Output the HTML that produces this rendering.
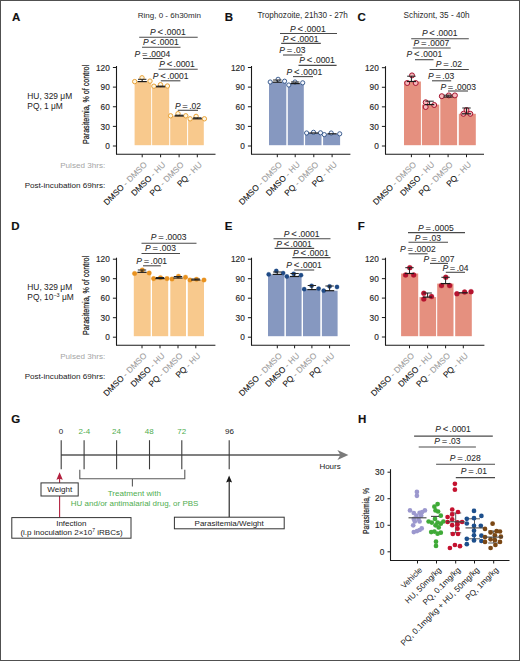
<!DOCTYPE html>
<html><head><meta charset="utf-8"><style>
html,body{margin:0;padding:0;background:#fff;}
body{width:520px;height:661px;overflow:hidden;}
svg{display:block;font-family:"Liberation Sans", sans-serif;}
</style></head><body>
<svg width="520" height="661" viewBox="0 0 520 661">
<rect x="0" y="0" width="520" height="661" fill="#fff"/>
<rect x="134.6" y="81.6" width="16.60" height="63.60" fill="#F8C98D"/>
<rect x="152.1" y="86.8" width="17.10" height="58.40" fill="#F8C98D"/>
<rect x="170.2" y="116" width="16.90" height="29.20" fill="#F8C98D"/>
<rect x="188.1" y="118.8" width="15.70" height="26.40" fill="#F8C98D"/>
<circle cx="134.7" cy="81.6" r="2.2" fill="#fff6e0" stroke="#E8A137" stroke-width="1.0"/>
<circle cx="142" cy="77.8" r="2.2" fill="#fff6e0" stroke="#E8A137" stroke-width="1.0"/>
<circle cx="150" cy="81.1" r="2.2" fill="#fff6e0" stroke="#E8A137" stroke-width="1.0"/>
<circle cx="153.9" cy="86.2" r="2.2" fill="#fff6e0" stroke="#E8A137" stroke-width="1.0"/>
<circle cx="160.5" cy="84.7" r="2.2" fill="#fff6e0" stroke="#E8A137" stroke-width="1.0"/>
<circle cx="167.4" cy="86" r="2.2" fill="#fff6e0" stroke="#E8A137" stroke-width="1.0"/>
<circle cx="170.6" cy="115.8" r="2.2" fill="#fff6e0" stroke="#E8A137" stroke-width="1.0"/>
<circle cx="178" cy="113.7" r="2.2" fill="#fff6e0" stroke="#E8A137" stroke-width="1.0"/>
<circle cx="185.8" cy="115.8" r="2.2" fill="#fff6e0" stroke="#E8A137" stroke-width="1.0"/>
<circle cx="190.1" cy="118.8" r="2.2" fill="#fff6e0" stroke="#E8A137" stroke-width="1.0"/>
<circle cx="196.1" cy="116.4" r="2.2" fill="#fff6e0" stroke="#E8A137" stroke-width="1.0"/>
<circle cx="204.4" cy="118.8" r="2.2" fill="#fff6e0" stroke="#E8A137" stroke-width="1.0"/>
<line x1="142.2" x2="142.2" y1="79.3" y2="81.6" stroke="#222" stroke-width="1"/>
<line x1="138.0" x2="146.39999999999998" y1="79.3" y2="79.3" stroke="#222" stroke-width="1"/>
<line x1="160.6" x2="160.6" y1="86.1" y2="86.8" stroke="#222" stroke-width="1"/>
<line x1="156.4" x2="164.79999999999998" y1="86.1" y2="86.1" stroke="#222" stroke-width="1"/>
<line x1="179.1" x2="179.1" y1="115.2" y2="116" stroke="#222" stroke-width="1"/>
<line x1="174.9" x2="183.29999999999998" y1="115.2" y2="115.2" stroke="#222" stroke-width="1"/>
<line x1="197.3" x2="197.3" y1="117.8" y2="118.8" stroke="#222" stroke-width="1"/>
<line x1="193.10000000000002" x2="201.5" y1="117.8" y2="117.8" stroke="#222" stroke-width="1"/>
<line x1="137.6" x2="146.79999999999998" y1="81.6" y2="81.6" stroke="#1a1a1a" stroke-width="1.2"/>
<line x1="156.0" x2="165.2" y1="86.8" y2="86.8" stroke="#1a1a1a" stroke-width="1.2"/>
<line x1="174.5" x2="183.7" y1="116" y2="116" stroke="#1a1a1a" stroke-width="1.2"/>
<line x1="192.70000000000002" x2="201.9" y1="118.8" y2="118.8" stroke="#1a1a1a" stroke-width="1.2"/>
<line x1="116.5" x2="116.5" y1="66.0" y2="154.3" stroke="#1a1a1a" stroke-width="1.1"/>
<line x1="116.0" x2="215.5" y1="154.3" y2="154.3" stroke="#1a1a1a" stroke-width="1.1"/>
<line x1="112.9" x2="116.5" y1="146.00" y2="146.00" stroke="#1a1a1a" stroke-width="1"/>
<text x="109.8" y="149.20" font-size="8.3" fill="#2a2a2a" stroke="#2a2a2a" stroke-width="0.15" text-anchor="end">0</text>
<line x1="112.9" x2="116.5" y1="126.38" y2="126.38" stroke="#1a1a1a" stroke-width="1"/>
<text x="109.8" y="129.57" font-size="8.3" fill="#2a2a2a" stroke="#2a2a2a" stroke-width="0.15" text-anchor="end">30</text>
<line x1="112.9" x2="116.5" y1="106.75" y2="106.75" stroke="#1a1a1a" stroke-width="1"/>
<text x="109.8" y="109.95" font-size="8.3" fill="#2a2a2a" stroke="#2a2a2a" stroke-width="0.15" text-anchor="end">60</text>
<line x1="112.9" x2="116.5" y1="87.12" y2="87.12" stroke="#1a1a1a" stroke-width="1"/>
<text x="109.8" y="90.33" font-size="8.3" fill="#2a2a2a" stroke="#2a2a2a" stroke-width="0.15" text-anchor="end">90</text>
<line x1="112.9" x2="116.5" y1="67.50" y2="67.50" stroke="#1a1a1a" stroke-width="1"/>
<text x="109.8" y="70.70" font-size="8.3" fill="#2a2a2a" stroke="#2a2a2a" stroke-width="0.15" text-anchor="end">120</text>
<line x1="142.2" x2="142.2" y1="154.3" y2="157.3" stroke="#1a1a1a" stroke-width="1"/>
<line x1="160.6" x2="160.6" y1="154.3" y2="157.3" stroke="#1a1a1a" stroke-width="1"/>
<line x1="179.1" x2="179.1" y1="154.3" y2="157.3" stroke="#1a1a1a" stroke-width="1"/>
<line x1="197.3" x2="197.3" y1="154.3" y2="157.3" stroke="#1a1a1a" stroke-width="1"/>
<text transform="translate(147.50,165.20) rotate(-45)" font-size="8.3" text-anchor="end" fill="#111" stroke="#111" stroke-width="0.1">DMSO<tspan fill="#9d9d9d" stroke="#9d9d9d" stroke-width="0.1"> - DMSO</tspan></text>
<text transform="translate(165.90,165.20) rotate(-45)" font-size="8.3" text-anchor="end" fill="#111" stroke="#111" stroke-width="0.1">DMSO<tspan fill="#9d9d9d" stroke="#9d9d9d" stroke-width="0.1"> - HU</tspan></text>
<text transform="translate(184.40,165.20) rotate(-45)" font-size="8.3" text-anchor="end" fill="#111" stroke="#111" stroke-width="0.1">PQ<tspan fill="#9d9d9d" stroke="#9d9d9d" stroke-width="0.1"> - DMSO</tspan></text>
<text transform="translate(202.60,165.20) rotate(-45)" font-size="8.3" text-anchor="end" fill="#111" stroke="#111" stroke-width="0.1">PQ<tspan fill="#9d9d9d" stroke="#9d9d9d" stroke-width="0.1"> - HU</tspan></text>
<text x="150" y="34.9" font-size="8.5" fill="#2a2a2a" stroke="#2a2a2a" stroke-width="0.08"><tspan font-style="italic">P</tspan><tspan dx="1.8" font-size="9.4">&lt;</tspan><tspan dx="1.4">.0001</tspan></text>
<line x1="139.2" x2="197.7" y1="37.2" y2="37.2" stroke="#4a4a4a" stroke-width="1.1"/>
<text x="143" y="44.9" font-size="8.5" fill="#2a2a2a" stroke="#2a2a2a" stroke-width="0.08"><tspan font-style="italic">P</tspan><tspan dx="1.8" font-size="9.4">&lt;</tspan><tspan dx="1.4">.0001</tspan></text>
<line x1="142" x2="180.5" y1="47.2" y2="47.2" stroke="#4a4a4a" stroke-width="1.1"/>
<text x="134.6" y="56.5" font-size="8.5" fill="#2a2a2a" stroke="#2a2a2a" stroke-width="0.08"><tspan font-style="italic">P</tspan><tspan dx="1.8" font-size="9.4">=</tspan><tspan dx="1.4">.0004</tspan></text>
<line x1="143" x2="162.6" y1="58.5" y2="58.5" stroke="#4a4a4a" stroke-width="1.1"/>
<text x="159.2" y="67.3" font-size="8.5" fill="#2a2a2a" stroke="#2a2a2a" stroke-width="0.08"><tspan font-style="italic">P</tspan><tspan dx="1.8" font-size="9.4">&lt;</tspan><tspan dx="1.4">.0001</tspan></text>
<line x1="158.5" x2="197.7" y1="69.2" y2="69.2" stroke="#4a4a4a" stroke-width="1.1"/>
<text x="152.8" y="78.6" font-size="8.5" fill="#2a2a2a" stroke="#2a2a2a" stroke-width="0.08"><tspan font-style="italic">P</tspan><tspan dx="1.8" font-size="9.4">&lt;</tspan><tspan dx="1.4">.0001</tspan></text>
<line x1="160.8" x2="180.4" y1="80.8" y2="80.8" stroke="#4a4a4a" stroke-width="1.1"/>
<text x="174.9" y="108.6" font-size="8.5" fill="#2a2a2a" stroke="#2a2a2a" stroke-width="0.08"><tspan font-style="italic">P</tspan><tspan dx="1.8" font-size="9.4">=</tspan><tspan dx="1.4">.02</tspan></text>
<line x1="177.8" x2="198" y1="110.3" y2="110.3" stroke="#4a4a4a" stroke-width="1.1"/>
<rect x="269" y="82.2" width="17.30" height="63.00" fill="#8698C0"/>
<rect x="287.8" y="83.6" width="16.00" height="61.60" fill="#8698C0"/>
<rect x="305.1" y="133" width="16.40" height="12.20" fill="#8698C0"/>
<rect x="323.1" y="133.8" width="17.00" height="11.40" fill="#8698C0"/>
<circle cx="270.2" cy="82" r="2.1" fill="#f4f7ff" stroke="#2B4F85" stroke-width="0.9"/>
<circle cx="278.1" cy="79.3" r="2.1" fill="#f4f7ff" stroke="#2B4F85" stroke-width="0.9"/>
<circle cx="284.6" cy="81.2" r="2.1" fill="#f4f7ff" stroke="#2B4F85" stroke-width="0.9"/>
<circle cx="288.8" cy="85" r="2.1" fill="#f4f7ff" stroke="#2B4F85" stroke-width="0.9"/>
<circle cx="295" cy="82" r="2.1" fill="#f4f7ff" stroke="#2B4F85" stroke-width="0.9"/>
<circle cx="302.7" cy="82.8" r="2.1" fill="#f4f7ff" stroke="#2B4F85" stroke-width="0.9"/>
<circle cx="306.6" cy="133" r="2.1" fill="#f4f7ff" stroke="#2B4F85" stroke-width="0.9"/>
<circle cx="313.5" cy="132.3" r="2.1" fill="#f4f7ff" stroke="#2B4F85" stroke-width="0.9"/>
<circle cx="320.5" cy="132.8" r="2.1" fill="#f4f7ff" stroke="#2B4F85" stroke-width="0.9"/>
<circle cx="324.3" cy="134.6" r="2.1" fill="#f4f7ff" stroke="#2B4F85" stroke-width="0.9"/>
<circle cx="331.2" cy="133" r="2.1" fill="#f4f7ff" stroke="#2B4F85" stroke-width="0.9"/>
<circle cx="339.7" cy="133.8" r="2.1" fill="#f4f7ff" stroke="#2B4F85" stroke-width="0.9"/>
<line x1="277.3" x2="277.3" y1="80" y2="82.2" stroke="#222" stroke-width="1"/>
<line x1="273.1" x2="281.5" y1="80" y2="80" stroke="#222" stroke-width="1"/>
<line x1="295.2" x2="295.2" y1="82" y2="83.6" stroke="#222" stroke-width="1"/>
<line x1="291.0" x2="299.4" y1="82" y2="82" stroke="#222" stroke-width="1"/>
<line x1="272.7" x2="281.90000000000003" y1="82.2" y2="82.2" stroke="#1a1a1a" stroke-width="1.2"/>
<line x1="290.59999999999997" x2="299.8" y1="83.6" y2="83.6" stroke="#1a1a1a" stroke-width="1.2"/>
<line x1="309.2" x2="318.40000000000003" y1="133" y2="133" stroke="#1a1a1a" stroke-width="1.2"/>
<line x1="327.5" x2="336.70000000000005" y1="133.8" y2="133.8" stroke="#1a1a1a" stroke-width="1.2"/>
<line x1="251.5" x2="251.5" y1="66.0" y2="154.2" stroke="#1a1a1a" stroke-width="1.1"/>
<line x1="251.0" x2="350.4" y1="154.2" y2="154.2" stroke="#1a1a1a" stroke-width="1.1"/>
<line x1="247.9" x2="251.5" y1="146.00" y2="146.00" stroke="#1a1a1a" stroke-width="1"/>
<text x="244.8" y="149.20" font-size="8.3" fill="#2a2a2a" stroke="#2a2a2a" stroke-width="0.15" text-anchor="end">0</text>
<line x1="247.9" x2="251.5" y1="126.38" y2="126.38" stroke="#1a1a1a" stroke-width="1"/>
<text x="244.8" y="129.57" font-size="8.3" fill="#2a2a2a" stroke="#2a2a2a" stroke-width="0.15" text-anchor="end">30</text>
<line x1="247.9" x2="251.5" y1="106.75" y2="106.75" stroke="#1a1a1a" stroke-width="1"/>
<text x="244.8" y="109.95" font-size="8.3" fill="#2a2a2a" stroke="#2a2a2a" stroke-width="0.15" text-anchor="end">60</text>
<line x1="247.9" x2="251.5" y1="87.12" y2="87.12" stroke="#1a1a1a" stroke-width="1"/>
<text x="244.8" y="90.33" font-size="8.3" fill="#2a2a2a" stroke="#2a2a2a" stroke-width="0.15" text-anchor="end">90</text>
<line x1="247.9" x2="251.5" y1="67.50" y2="67.50" stroke="#1a1a1a" stroke-width="1"/>
<text x="244.8" y="70.70" font-size="8.3" fill="#2a2a2a" stroke="#2a2a2a" stroke-width="0.15" text-anchor="end">120</text>
<line x1="277.3" x2="277.3" y1="154.2" y2="157.2" stroke="#1a1a1a" stroke-width="1"/>
<line x1="295.2" x2="295.2" y1="154.2" y2="157.2" stroke="#1a1a1a" stroke-width="1"/>
<line x1="313.8" x2="313.8" y1="154.2" y2="157.2" stroke="#1a1a1a" stroke-width="1"/>
<line x1="332.1" x2="332.1" y1="154.2" y2="157.2" stroke="#1a1a1a" stroke-width="1"/>
<text transform="translate(282.60,165.10) rotate(-45)" font-size="8.3" text-anchor="end" fill="#111" stroke="#111" stroke-width="0.1">DMSO<tspan fill="#9d9d9d" stroke="#9d9d9d" stroke-width="0.1"> - DMSO</tspan></text>
<text transform="translate(300.50,165.10) rotate(-45)" font-size="8.3" text-anchor="end" fill="#111" stroke="#111" stroke-width="0.1">DMSO<tspan fill="#9d9d9d" stroke="#9d9d9d" stroke-width="0.1"> - HU</tspan></text>
<text transform="translate(319.10,165.10) rotate(-45)" font-size="8.3" text-anchor="end" fill="#111" stroke="#111" stroke-width="0.1">PQ<tspan fill="#9d9d9d" stroke="#9d9d9d" stroke-width="0.1"> - DMSO</tspan></text>
<text transform="translate(337.40,165.10) rotate(-45)" font-size="8.3" text-anchor="end" fill="#111" stroke="#111" stroke-width="0.1">PQ<tspan fill="#9d9d9d" stroke="#9d9d9d" stroke-width="0.1"> - HU</tspan></text>
<text x="290" y="31.8" font-size="8.5" fill="#2a2a2a" stroke="#2a2a2a" stroke-width="0.08"><tspan font-style="italic">P</tspan><tspan dx="1.8" font-size="9.4">&lt;</tspan><tspan dx="1.4">.0001</tspan></text>
<line x1="280" x2="337" y1="33.5" y2="33.5" stroke="#4a4a4a" stroke-width="1.1"/>
<text x="282.8" y="41.5" font-size="8.5" fill="#2a2a2a" stroke="#2a2a2a" stroke-width="0.08"><tspan font-style="italic">P</tspan><tspan dx="1.8" font-size="9.4">&lt;</tspan><tspan dx="1.4">.0001</tspan></text>
<line x1="281.2" x2="320.8" y1="43.4" y2="43.4" stroke="#4a4a4a" stroke-width="1.1"/>
<text x="279.2" y="53.3" font-size="8.5" fill="#2a2a2a" stroke="#2a2a2a" stroke-width="0.08"><tspan font-style="italic">P</tspan><tspan dx="1.8" font-size="9.4">=</tspan><tspan dx="1.4">.03</tspan></text>
<line x1="283" x2="302.3" y1="55" y2="55" stroke="#4a4a4a" stroke-width="1.1"/>
<text x="299.2" y="63.3" font-size="8.5" fill="#2a2a2a" stroke="#2a2a2a" stroke-width="0.08"><tspan font-style="italic">P</tspan><tspan dx="1.8" font-size="9.4">&lt;</tspan><tspan dx="1.4">.0001</tspan></text>
<line x1="298.5" x2="336.6" y1="65.4" y2="65.4" stroke="#4a4a4a" stroke-width="1.1"/>
<text x="286.5" y="74.9" font-size="8.5" fill="#2a2a2a" stroke="#2a2a2a" stroke-width="0.08"><tspan font-style="italic">P</tspan><tspan dx="1.8" font-size="9.4">&lt;</tspan><tspan dx="1.4">.0001</tspan></text>
<line x1="293" x2="313" y1="76.6" y2="76.6" stroke="#4a4a4a" stroke-width="1.1"/>
<rect x="404" y="81.5" width="16.90" height="63.70" fill="#E5907F"/>
<rect x="421.9" y="104.6" width="17.30" height="40.60" fill="#E5907F"/>
<rect x="440.3" y="97" width="16.80" height="48.20" fill="#E5907F"/>
<rect x="458.8" y="113.8" width="17.00" height="31.40" fill="#E5907F"/>
<circle cx="407.2" cy="83" r="2.5" fill="#F7B9BC" stroke="#A5132E" stroke-width="1.0"/>
<circle cx="415.7" cy="83" r="2.5" fill="#F7B9BC" stroke="#A5132E" stroke-width="1.0"/>
<circle cx="412" cy="75.4" r="2.5" fill="#F7B9BC" stroke="#A5132E" stroke-width="1.0"/>
<circle cx="425.7" cy="102.3" r="2.5" fill="#F7B9BC" stroke="#A5132E" stroke-width="1.0"/>
<circle cx="425.7" cy="107" r="2.5" fill="#F7B9BC" stroke="#A5132E" stroke-width="1.0"/>
<circle cx="434.2" cy="105" r="2.5" fill="#F7B9BC" stroke="#A5132E" stroke-width="1.0"/>
<circle cx="441.8" cy="96.2" r="2.5" fill="#F7B9BC" stroke="#A5132E" stroke-width="1.0"/>
<circle cx="448.8" cy="95.4" r="2.5" fill="#F7B9BC" stroke="#A5132E" stroke-width="1.0"/>
<circle cx="454.9" cy="95.4" r="2.5" fill="#F7B9BC" stroke="#A5132E" stroke-width="1.0"/>
<circle cx="463.4" cy="113.8" r="2.5" fill="#F7B9BC" stroke="#A5132E" stroke-width="1.0"/>
<circle cx="470.3" cy="113.8" r="2.5" fill="#F7B9BC" stroke="#A5132E" stroke-width="1.0"/>
<circle cx="466.5" cy="110" r="2.5" fill="#F7B9BC" stroke="#A5132E" stroke-width="1.0"/>
<line x1="411.4" x2="411.4" y1="76.2" y2="81.5" stroke="#222" stroke-width="1"/>
<line x1="407.2" x2="415.59999999999997" y1="76.2" y2="76.2" stroke="#222" stroke-width="1"/>
<line x1="429.6" x2="429.6" y1="101.2" y2="104.6" stroke="#222" stroke-width="1"/>
<line x1="425.40000000000003" x2="433.8" y1="101.2" y2="101.2" stroke="#222" stroke-width="1"/>
<line x1="448.1" x2="448.1" y1="95.2" y2="97" stroke="#222" stroke-width="1"/>
<line x1="443.90000000000003" x2="452.3" y1="95.2" y2="95.2" stroke="#222" stroke-width="1"/>
<line x1="466.5" x2="466.5" y1="108" y2="113.8" stroke="#222" stroke-width="1"/>
<line x1="462.3" x2="470.7" y1="108" y2="108" stroke="#222" stroke-width="1"/>
<line x1="406.79999999999995" x2="416.0" y1="81.5" y2="81.5" stroke="#1a1a1a" stroke-width="1.2"/>
<line x1="425.0" x2="434.20000000000005" y1="104.6" y2="104.6" stroke="#1a1a1a" stroke-width="1.2"/>
<line x1="443.5" x2="452.70000000000005" y1="97" y2="97" stroke="#1a1a1a" stroke-width="1.2"/>
<line x1="461.9" x2="471.1" y1="113.8" y2="113.8" stroke="#1a1a1a" stroke-width="1.2"/>
<line x1="385.5" x2="385.5" y1="66.2" y2="154.2" stroke="#1a1a1a" stroke-width="1.1"/>
<line x1="385.0" x2="484" y1="154.2" y2="154.2" stroke="#1a1a1a" stroke-width="1.1"/>
<line x1="381.9" x2="385.5" y1="146.00" y2="146.00" stroke="#1a1a1a" stroke-width="1"/>
<text x="378.8" y="149.20" font-size="8.3" fill="#2a2a2a" stroke="#2a2a2a" stroke-width="0.15" text-anchor="end">0</text>
<line x1="381.9" x2="385.5" y1="126.42" y2="126.42" stroke="#1a1a1a" stroke-width="1"/>
<text x="378.8" y="129.62" font-size="8.3" fill="#2a2a2a" stroke="#2a2a2a" stroke-width="0.15" text-anchor="end">30</text>
<line x1="381.9" x2="385.5" y1="106.85" y2="106.85" stroke="#1a1a1a" stroke-width="1"/>
<text x="378.8" y="110.05" font-size="8.3" fill="#2a2a2a" stroke="#2a2a2a" stroke-width="0.15" text-anchor="end">60</text>
<line x1="381.9" x2="385.5" y1="87.28" y2="87.28" stroke="#1a1a1a" stroke-width="1"/>
<text x="378.8" y="90.48" font-size="8.3" fill="#2a2a2a" stroke="#2a2a2a" stroke-width="0.15" text-anchor="end">90</text>
<line x1="381.9" x2="385.5" y1="67.70" y2="67.70" stroke="#1a1a1a" stroke-width="1"/>
<text x="378.8" y="70.90" font-size="8.3" fill="#2a2a2a" stroke="#2a2a2a" stroke-width="0.15" text-anchor="end">120</text>
<line x1="411.4" x2="411.4" y1="154.2" y2="157.2" stroke="#1a1a1a" stroke-width="1"/>
<line x1="429.6" x2="429.6" y1="154.2" y2="157.2" stroke="#1a1a1a" stroke-width="1"/>
<line x1="448.1" x2="448.1" y1="154.2" y2="157.2" stroke="#1a1a1a" stroke-width="1"/>
<line x1="466.5" x2="466.5" y1="154.2" y2="157.2" stroke="#1a1a1a" stroke-width="1"/>
<text transform="translate(416.70,165.10) rotate(-45)" font-size="8.3" text-anchor="end" fill="#111" stroke="#111" stroke-width="0.1">DMSO<tspan fill="#9d9d9d" stroke="#9d9d9d" stroke-width="0.1"> - DMSO</tspan></text>
<text transform="translate(434.90,165.10) rotate(-45)" font-size="8.3" text-anchor="end" fill="#111" stroke="#111" stroke-width="0.1">DMSO<tspan fill="#9d9d9d" stroke="#9d9d9d" stroke-width="0.1"> - HU</tspan></text>
<text transform="translate(453.40,165.10) rotate(-45)" font-size="8.3" text-anchor="end" fill="#111" stroke="#111" stroke-width="0.1">PQ<tspan fill="#9d9d9d" stroke="#9d9d9d" stroke-width="0.1"> - DMSO</tspan></text>
<text transform="translate(471.80,165.10) rotate(-45)" font-size="8.3" text-anchor="end" fill="#111" stroke="#111" stroke-width="0.1">PQ<tspan fill="#9d9d9d" stroke="#9d9d9d" stroke-width="0.1"> - HU</tspan></text>
<text x="421.9" y="35.7" font-size="8.5" fill="#2a2a2a" stroke="#2a2a2a" stroke-width="0.08"><tspan font-style="italic">P</tspan><tspan dx="1.8" font-size="9.4">&lt;</tspan><tspan dx="1.4">.0001</tspan></text>
<line x1="411.2" x2="468.8" y1="38.8" y2="38.8" stroke="#4a4a4a" stroke-width="1.1"/>
<text x="413.5" y="45.7" font-size="8.5" fill="#2a2a2a" stroke="#2a2a2a" stroke-width="0.08"><tspan font-style="italic">P</tspan><tspan dx="1.8" font-size="9.4">=</tspan><tspan dx="1.4">.0007</tspan></text>
<line x1="412.7" x2="450.7" y1="48" y2="48" stroke="#4a4a4a" stroke-width="1.1"/>
<text x="406.5" y="56.5" font-size="8.5" fill="#2a2a2a" stroke="#2a2a2a" stroke-width="0.08"><tspan font-style="italic">P</tspan><tspan dx="1.8" font-size="9.4">&lt;</tspan><tspan dx="1.4">.0001</tspan></text>
<line x1="415" x2="433.5" y1="59.7" y2="59.7" stroke="#4a4a4a" stroke-width="1.1"/>
<text x="435.8" y="67.3" font-size="8.5" fill="#2a2a2a" stroke="#2a2a2a" stroke-width="0.08"><tspan font-style="italic">P</tspan><tspan dx="1.8" font-size="9.4">=</tspan><tspan dx="1.4">.02</tspan></text>
<line x1="429.6" x2="468.8" y1="69.5" y2="69.5" stroke="#4a4a4a" stroke-width="1.1"/>
<text x="428" y="78.8" font-size="8.5" fill="#2a2a2a" stroke="#2a2a2a" stroke-width="0.08"><tspan font-style="italic">P</tspan><tspan dx="1.8" font-size="9.4">=</tspan><tspan dx="1.4">.03</tspan></text>
<line x1="432" x2="451.2" y1="80.8" y2="80.8" stroke="#4a4a4a" stroke-width="1.1"/>
<text x="440.4" y="89.5" font-size="8.5" fill="#2a2a2a" stroke="#2a2a2a" stroke-width="0.08"><tspan font-style="italic">P</tspan><tspan dx="1.8" font-size="9.4">=</tspan><tspan dx="1.4">.0003</tspan></text>
<line x1="448" x2="468" y1="91" y2="91" stroke="#4a4a4a" stroke-width="1.1"/>
<rect x="133.8" y="272.3" width="16.90" height="63.90" fill="#F8C98D"/>
<rect x="152" y="278.6" width="16.20" height="57.60" fill="#F8C98D"/>
<rect x="170.3" y="278" width="15.70" height="58.20" fill="#F8C98D"/>
<rect x="187.8" y="280" width="16.20" height="56.20" fill="#F8C98D"/>
<circle cx="134.6" cy="273.5" r="2.3" fill="#E8911F" stroke="#E8911F" stroke-width="0.3"/>
<circle cx="142.3" cy="270" r="2.3" fill="#E8911F" stroke="#E8911F" stroke-width="0.3"/>
<circle cx="149.2" cy="273" r="2.3" fill="#E8911F" stroke="#E8911F" stroke-width="0.3"/>
<circle cx="153.6" cy="278.6" r="2.3" fill="#E8911F" stroke="#E8911F" stroke-width="0.3"/>
<circle cx="160.5" cy="277.7" r="2.3" fill="#E8911F" stroke="#E8911F" stroke-width="0.3"/>
<circle cx="167" cy="278.6" r="2.3" fill="#E8911F" stroke="#E8911F" stroke-width="0.3"/>
<circle cx="172" cy="279" r="2.3" fill="#E8911F" stroke="#E8911F" stroke-width="0.3"/>
<circle cx="178.5" cy="276.3" r="2.3" fill="#E8911F" stroke="#E8911F" stroke-width="0.3"/>
<circle cx="185.5" cy="277.2" r="2.3" fill="#E8911F" stroke="#E8911F" stroke-width="0.3"/>
<circle cx="190" cy="280" r="2.3" fill="#E8911F" stroke="#E8911F" stroke-width="0.3"/>
<circle cx="196.5" cy="279.3" r="2.3" fill="#E8911F" stroke="#E8911F" stroke-width="0.3"/>
<circle cx="204" cy="280" r="2.3" fill="#E8911F" stroke="#E8911F" stroke-width="0.3"/>
<line x1="142.0" x2="142.0" y1="270" y2="272.3" stroke="#222" stroke-width="1"/>
<line x1="137.8" x2="146.2" y1="270" y2="270" stroke="#222" stroke-width="1"/>
<line x1="160.0" x2="160.0" y1="277.5" y2="278.6" stroke="#222" stroke-width="1"/>
<line x1="155.8" x2="164.2" y1="277.5" y2="277.5" stroke="#222" stroke-width="1"/>
<line x1="178.0" x2="178.0" y1="276.5" y2="278" stroke="#222" stroke-width="1"/>
<line x1="173.8" x2="182.2" y1="276.5" y2="276.5" stroke="#222" stroke-width="1"/>
<line x1="195.8" x2="195.8" y1="279" y2="280" stroke="#222" stroke-width="1"/>
<line x1="191.60000000000002" x2="200.0" y1="279" y2="279" stroke="#222" stroke-width="1"/>
<line x1="137.4" x2="146.6" y1="272.3" y2="272.3" stroke="#1a1a1a" stroke-width="1.2"/>
<line x1="155.4" x2="164.6" y1="278.6" y2="278.6" stroke="#1a1a1a" stroke-width="1.2"/>
<line x1="173.4" x2="182.6" y1="278" y2="278" stroke="#1a1a1a" stroke-width="1.2"/>
<line x1="191.20000000000002" x2="200.4" y1="280" y2="280" stroke="#1a1a1a" stroke-width="1.2"/>
<line x1="116.5" x2="116.5" y1="257.7" y2="345.3" stroke="#1a1a1a" stroke-width="1.1"/>
<line x1="116.0" x2="215.4" y1="345.3" y2="345.3" stroke="#1a1a1a" stroke-width="1.1"/>
<line x1="112.9" x2="116.5" y1="337.20" y2="337.20" stroke="#1a1a1a" stroke-width="1"/>
<text x="109.8" y="340.40" font-size="8.3" fill="#2a2a2a" stroke="#2a2a2a" stroke-width="0.15" text-anchor="end">0</text>
<line x1="112.9" x2="116.5" y1="317.70" y2="317.70" stroke="#1a1a1a" stroke-width="1"/>
<text x="109.8" y="320.90" font-size="8.3" fill="#2a2a2a" stroke="#2a2a2a" stroke-width="0.15" text-anchor="end">30</text>
<line x1="112.9" x2="116.5" y1="298.20" y2="298.20" stroke="#1a1a1a" stroke-width="1"/>
<text x="109.8" y="301.40" font-size="8.3" fill="#2a2a2a" stroke="#2a2a2a" stroke-width="0.15" text-anchor="end">60</text>
<line x1="112.9" x2="116.5" y1="278.70" y2="278.70" stroke="#1a1a1a" stroke-width="1"/>
<text x="109.8" y="281.90" font-size="8.3" fill="#2a2a2a" stroke="#2a2a2a" stroke-width="0.15" text-anchor="end">90</text>
<line x1="112.9" x2="116.5" y1="259.20" y2="259.20" stroke="#1a1a1a" stroke-width="1"/>
<text x="109.8" y="262.40" font-size="8.3" fill="#2a2a2a" stroke="#2a2a2a" stroke-width="0.15" text-anchor="end">120</text>
<line x1="142.0" x2="142.0" y1="345.3" y2="348.3" stroke="#1a1a1a" stroke-width="1"/>
<line x1="160.0" x2="160.0" y1="345.3" y2="348.3" stroke="#1a1a1a" stroke-width="1"/>
<line x1="178.0" x2="178.0" y1="345.3" y2="348.3" stroke="#1a1a1a" stroke-width="1"/>
<line x1="195.8" x2="195.8" y1="345.3" y2="348.3" stroke="#1a1a1a" stroke-width="1"/>
<text transform="translate(147.30,356.20) rotate(-45)" font-size="8.3" text-anchor="end" fill="#111" stroke="#111" stroke-width="0.1">DMSO<tspan fill="#9d9d9d" stroke="#9d9d9d" stroke-width="0.1"> - DMSO</tspan></text>
<text transform="translate(165.30,356.20) rotate(-45)" font-size="8.3" text-anchor="end" fill="#111" stroke="#111" stroke-width="0.1">DMSO<tspan fill="#9d9d9d" stroke="#9d9d9d" stroke-width="0.1"> - HU</tspan></text>
<text transform="translate(183.30,356.20) rotate(-45)" font-size="8.3" text-anchor="end" fill="#111" stroke="#111" stroke-width="0.1">PQ<tspan fill="#9d9d9d" stroke="#9d9d9d" stroke-width="0.1"> - DMSO</tspan></text>
<text transform="translate(201.10,356.20) rotate(-45)" font-size="8.3" text-anchor="end" fill="#111" stroke="#111" stroke-width="0.1">PQ<tspan fill="#9d9d9d" stroke="#9d9d9d" stroke-width="0.1"> - HU</tspan></text>
<text x="150.8" y="239.9" font-size="8.5" fill="#2a2a2a" stroke="#2a2a2a" stroke-width="0.08"><tspan font-style="italic">P</tspan><tspan dx="1.8" font-size="9.4">=</tspan><tspan dx="1.4">.0003</tspan></text>
<line x1="141.5" x2="196.5" y1="243.2" y2="243.2" stroke="#4a4a4a" stroke-width="1.1"/>
<text x="145" y="251.1" font-size="8.5" fill="#2a2a2a" stroke="#2a2a2a" stroke-width="0.08"><tspan font-style="italic">P</tspan><tspan dx="1.8" font-size="9.4">=</tspan><tspan dx="1.4">.003</tspan></text>
<line x1="141.5" x2="180" y1="253.5" y2="253.5" stroke="#4a4a4a" stroke-width="1.1"/>
<text x="136.2" y="263.8" font-size="8.5" fill="#2a2a2a" stroke="#2a2a2a" stroke-width="0.08"><tspan font-style="italic">P</tspan><tspan dx="1.8" font-size="9.4">=</tspan><tspan dx="1.4">.001</tspan></text>
<line x1="143" x2="160.8" y1="265.8" y2="265.8" stroke="#4a4a4a" stroke-width="1.1"/>
<rect x="268" y="274.4" width="16.40" height="61.80" fill="#8698C0"/>
<rect x="285.9" y="276.5" width="15.70" height="59.70" fill="#8698C0"/>
<rect x="303" y="289.6" width="17.30" height="46.60" fill="#8698C0"/>
<rect x="321.9" y="290.7" width="15.70" height="45.50" fill="#8698C0"/>
<circle cx="268.7" cy="274.4" r="2.15" fill="#1F4A86" stroke="#1F4A86" stroke-width="0.3"/>
<circle cx="276.3" cy="271" r="2.15" fill="#1F4A86" stroke="#1F4A86" stroke-width="0.3"/>
<circle cx="283.1" cy="273.1" r="2.15" fill="#1F4A86" stroke="#1F4A86" stroke-width="0.3"/>
<circle cx="286.9" cy="276.5" r="2.15" fill="#1F4A86" stroke="#1F4A86" stroke-width="0.3"/>
<circle cx="293.7" cy="273.8" r="2.15" fill="#1F4A86" stroke="#1F4A86" stroke-width="0.3"/>
<circle cx="301" cy="275.2" r="2.15" fill="#1F4A86" stroke="#1F4A86" stroke-width="0.3"/>
<circle cx="304.2" cy="289.2" r="2.15" fill="#1F4A86" stroke="#1F4A86" stroke-width="0.3"/>
<circle cx="311.6" cy="285.8" r="2.15" fill="#1F4A86" stroke="#1F4A86" stroke-width="0.3"/>
<circle cx="318.6" cy="288.6" r="2.15" fill="#1F4A86" stroke="#1F4A86" stroke-width="0.3"/>
<circle cx="323.7" cy="290.7" r="2.15" fill="#1F4A86" stroke="#1F4A86" stroke-width="0.3"/>
<circle cx="329.6" cy="286.4" r="2.15" fill="#1F4A86" stroke="#1F4A86" stroke-width="0.3"/>
<circle cx="337" cy="287" r="2.15" fill="#1F4A86" stroke="#1F4A86" stroke-width="0.3"/>
<line x1="277.3" x2="277.3" y1="272" y2="274.4" stroke="#222" stroke-width="1"/>
<line x1="273.1" x2="281.5" y1="272" y2="272" stroke="#222" stroke-width="1"/>
<line x1="294.6" x2="294.6" y1="273.5" y2="276.5" stroke="#222" stroke-width="1"/>
<line x1="290.40000000000003" x2="298.8" y1="273.5" y2="273.5" stroke="#222" stroke-width="1"/>
<line x1="311.9" x2="311.9" y1="285.5" y2="289.6" stroke="#222" stroke-width="1"/>
<line x1="307.7" x2="316.09999999999997" y1="285.5" y2="285.5" stroke="#222" stroke-width="1"/>
<line x1="329.6" x2="329.6" y1="286" y2="290.7" stroke="#222" stroke-width="1"/>
<line x1="325.40000000000003" x2="333.8" y1="286" y2="286" stroke="#222" stroke-width="1"/>
<line x1="272.7" x2="281.90000000000003" y1="274.4" y2="274.4" stroke="#1a1a1a" stroke-width="1.2"/>
<line x1="290.0" x2="299.20000000000005" y1="276.5" y2="276.5" stroke="#1a1a1a" stroke-width="1.2"/>
<line x1="307.29999999999995" x2="316.5" y1="289.6" y2="289.6" stroke="#1a1a1a" stroke-width="1.2"/>
<line x1="325.0" x2="334.20000000000005" y1="290.7" y2="290.7" stroke="#1a1a1a" stroke-width="1.2"/>
<line x1="251.5" x2="251.5" y1="257.7" y2="345.3" stroke="#1a1a1a" stroke-width="1.1"/>
<line x1="251.0" x2="350.0" y1="345.3" y2="345.3" stroke="#1a1a1a" stroke-width="1.1"/>
<line x1="247.9" x2="251.5" y1="337.20" y2="337.20" stroke="#1a1a1a" stroke-width="1"/>
<text x="244.8" y="340.40" font-size="8.3" fill="#2a2a2a" stroke="#2a2a2a" stroke-width="0.15" text-anchor="end">0</text>
<line x1="247.9" x2="251.5" y1="317.70" y2="317.70" stroke="#1a1a1a" stroke-width="1"/>
<text x="244.8" y="320.90" font-size="8.3" fill="#2a2a2a" stroke="#2a2a2a" stroke-width="0.15" text-anchor="end">30</text>
<line x1="247.9" x2="251.5" y1="298.20" y2="298.20" stroke="#1a1a1a" stroke-width="1"/>
<text x="244.8" y="301.40" font-size="8.3" fill="#2a2a2a" stroke="#2a2a2a" stroke-width="0.15" text-anchor="end">60</text>
<line x1="247.9" x2="251.5" y1="278.70" y2="278.70" stroke="#1a1a1a" stroke-width="1"/>
<text x="244.8" y="281.90" font-size="8.3" fill="#2a2a2a" stroke="#2a2a2a" stroke-width="0.15" text-anchor="end">90</text>
<line x1="247.9" x2="251.5" y1="259.20" y2="259.20" stroke="#1a1a1a" stroke-width="1"/>
<text x="244.8" y="262.40" font-size="8.3" fill="#2a2a2a" stroke="#2a2a2a" stroke-width="0.15" text-anchor="end">120</text>
<line x1="277.3" x2="277.3" y1="345.3" y2="348.3" stroke="#1a1a1a" stroke-width="1"/>
<line x1="294.6" x2="294.6" y1="345.3" y2="348.3" stroke="#1a1a1a" stroke-width="1"/>
<line x1="311.9" x2="311.9" y1="345.3" y2="348.3" stroke="#1a1a1a" stroke-width="1"/>
<line x1="329.6" x2="329.6" y1="345.3" y2="348.3" stroke="#1a1a1a" stroke-width="1"/>
<text transform="translate(282.60,356.20) rotate(-45)" font-size="8.3" text-anchor="end" fill="#111" stroke="#111" stroke-width="0.1">DMSO<tspan fill="#9d9d9d" stroke="#9d9d9d" stroke-width="0.1"> - DMSO</tspan></text>
<text transform="translate(299.90,356.20) rotate(-45)" font-size="8.3" text-anchor="end" fill="#111" stroke="#111" stroke-width="0.1">DMSO<tspan fill="#9d9d9d" stroke="#9d9d9d" stroke-width="0.1"> - HU</tspan></text>
<text transform="translate(317.20,356.20) rotate(-45)" font-size="8.3" text-anchor="end" fill="#111" stroke="#111" stroke-width="0.1">PQ<tspan fill="#9d9d9d" stroke="#9d9d9d" stroke-width="0.1"> - DMSO</tspan></text>
<text transform="translate(334.90,356.20) rotate(-45)" font-size="8.3" text-anchor="end" fill="#111" stroke="#111" stroke-width="0.1">PQ<tspan fill="#9d9d9d" stroke="#9d9d9d" stroke-width="0.1"> - HU</tspan></text>
<text x="283.8" y="237.3" font-size="8.5" fill="#2a2a2a" stroke="#2a2a2a" stroke-width="0.08"><tspan font-style="italic">P</tspan><tspan dx="1.8" font-size="9.4">&lt;</tspan><tspan dx="1.4">.0001</tspan></text>
<line x1="273.5" x2="330.5" y1="238.8" y2="238.8" stroke="#4a4a4a" stroke-width="1.1"/>
<text x="276.2" y="246.5" font-size="8.5" fill="#2a2a2a" stroke="#2a2a2a" stroke-width="0.08"><tspan font-style="italic">P</tspan><tspan dx="1.8" font-size="9.4">&lt;</tspan><tspan dx="1.4">.0001</tspan></text>
<line x1="274.6" x2="314.2" y1="248.4" y2="248.4" stroke="#4a4a4a" stroke-width="1.1"/>
<text x="293" y="255.8" font-size="8.5" fill="#2a2a2a" stroke="#2a2a2a" stroke-width="0.08"><tspan font-style="italic">P</tspan><tspan dx="1.8" font-size="9.4">&lt;</tspan><tspan dx="1.4">.0001</tspan></text>
<line x1="292.3" x2="330.5" y1="257.6" y2="257.6" stroke="#4a4a4a" stroke-width="1.1"/>
<text x="286.2" y="267.6" font-size="8.5" fill="#2a2a2a" stroke="#2a2a2a" stroke-width="0.08"><tspan font-style="italic">P</tspan><tspan dx="1.8" font-size="9.4">&lt;</tspan><tspan dx="1.4">.0001</tspan></text>
<line x1="294.2" x2="314.2" y1="270" y2="270" stroke="#4a4a4a" stroke-width="1.1"/>
<rect x="401.1" y="273.5" width="17.10" height="62.70" fill="#E5907F"/>
<rect x="419.5" y="297.1" width="16.60" height="39.10" fill="#E5907F"/>
<rect x="437.2" y="283.6" width="16.30" height="52.60" fill="#E5907F"/>
<rect x="455.2" y="292.8" width="16.60" height="43.40" fill="#E5907F"/>
<circle cx="405.6" cy="275" r="2.5" fill="#B5132F" stroke="#B5132F" stroke-width="0.3"/>
<circle cx="413.7" cy="275" r="2.5" fill="#B5132F" stroke="#B5132F" stroke-width="0.3"/>
<circle cx="409.8" cy="267.7" r="2.5" fill="#B5132F" stroke="#B5132F" stroke-width="0.3"/>
<circle cx="423.8" cy="293.3" r="2.5" fill="#B5132F" stroke="#B5132F" stroke-width="0.3"/>
<circle cx="423.8" cy="299" r="2.5" fill="#B5132F" stroke="#B5132F" stroke-width="0.3"/>
<circle cx="431.5" cy="296.5" r="2.5" fill="#B5132F" stroke="#B5132F" stroke-width="0.3"/>
<circle cx="441.5" cy="285.6" r="2.5" fill="#B5132F" stroke="#B5132F" stroke-width="0.3"/>
<circle cx="449.6" cy="285.6" r="2.5" fill="#B5132F" stroke="#B5132F" stroke-width="0.3"/>
<circle cx="445.8" cy="277.3" r="2.5" fill="#B5132F" stroke="#B5132F" stroke-width="0.3"/>
<circle cx="456.9" cy="293.8" r="2.5" fill="#B5132F" stroke="#B5132F" stroke-width="0.3"/>
<circle cx="464.6" cy="292" r="2.5" fill="#B5132F" stroke="#B5132F" stroke-width="0.3"/>
<circle cx="471" cy="291.7" r="2.5" fill="#B5132F" stroke="#B5132F" stroke-width="0.3"/>
<line x1="409.5" x2="409.5" y1="267.7" y2="273.5" stroke="#222" stroke-width="1"/>
<line x1="405.3" x2="413.7" y1="267.7" y2="267.7" stroke="#222" stroke-width="1"/>
<line x1="427.6" x2="427.6" y1="293" y2="297.1" stroke="#222" stroke-width="1"/>
<line x1="423.40000000000003" x2="431.8" y1="293" y2="293" stroke="#222" stroke-width="1"/>
<line x1="445.6" x2="445.6" y1="277.3" y2="283.6" stroke="#222" stroke-width="1"/>
<line x1="441.40000000000003" x2="449.8" y1="277.3" y2="277.3" stroke="#222" stroke-width="1"/>
<line x1="404.9" x2="414.1" y1="273.5" y2="273.5" stroke="#1a1a1a" stroke-width="1.2"/>
<line x1="423.0" x2="432.20000000000005" y1="297.1" y2="297.1" stroke="#1a1a1a" stroke-width="1.2"/>
<line x1="441.0" x2="450.20000000000005" y1="283.6" y2="283.6" stroke="#1a1a1a" stroke-width="1.2"/>
<line x1="458.7" x2="467.90000000000003" y1="292.8" y2="292.8" stroke="#1a1a1a" stroke-width="1.2"/>
<line x1="385.5" x2="385.5" y1="257.7" y2="345.3" stroke="#1a1a1a" stroke-width="1.1"/>
<line x1="385.0" x2="484.4" y1="345.3" y2="345.3" stroke="#1a1a1a" stroke-width="1.1"/>
<line x1="381.9" x2="385.5" y1="337.00" y2="337.00" stroke="#1a1a1a" stroke-width="1"/>
<text x="378.8" y="340.20" font-size="8.3" fill="#2a2a2a" stroke="#2a2a2a" stroke-width="0.15" text-anchor="end">0</text>
<line x1="381.9" x2="385.5" y1="317.55" y2="317.55" stroke="#1a1a1a" stroke-width="1"/>
<text x="378.8" y="320.75" font-size="8.3" fill="#2a2a2a" stroke="#2a2a2a" stroke-width="0.15" text-anchor="end">30</text>
<line x1="381.9" x2="385.5" y1="298.10" y2="298.10" stroke="#1a1a1a" stroke-width="1"/>
<text x="378.8" y="301.30" font-size="8.3" fill="#2a2a2a" stroke="#2a2a2a" stroke-width="0.15" text-anchor="end">60</text>
<line x1="381.9" x2="385.5" y1="278.65" y2="278.65" stroke="#1a1a1a" stroke-width="1"/>
<text x="378.8" y="281.85" font-size="8.3" fill="#2a2a2a" stroke="#2a2a2a" stroke-width="0.15" text-anchor="end">90</text>
<line x1="381.9" x2="385.5" y1="259.20" y2="259.20" stroke="#1a1a1a" stroke-width="1"/>
<text x="378.8" y="262.40" font-size="8.3" fill="#2a2a2a" stroke="#2a2a2a" stroke-width="0.15" text-anchor="end">120</text>
<line x1="409.5" x2="409.5" y1="345.3" y2="348.3" stroke="#1a1a1a" stroke-width="1"/>
<line x1="427.6" x2="427.6" y1="345.3" y2="348.3" stroke="#1a1a1a" stroke-width="1"/>
<line x1="445.6" x2="445.6" y1="345.3" y2="348.3" stroke="#1a1a1a" stroke-width="1"/>
<line x1="463.3" x2="463.3" y1="345.3" y2="348.3" stroke="#1a1a1a" stroke-width="1"/>
<text transform="translate(414.80,356.20) rotate(-45)" font-size="8.3" text-anchor="end" fill="#111" stroke="#111" stroke-width="0.1">DMSO<tspan fill="#9d9d9d" stroke="#9d9d9d" stroke-width="0.1"> - DMSO</tspan></text>
<text transform="translate(432.90,356.20) rotate(-45)" font-size="8.3" text-anchor="end" fill="#111" stroke="#111" stroke-width="0.1">DMSO<tspan fill="#9d9d9d" stroke="#9d9d9d" stroke-width="0.1"> - HU</tspan></text>
<text transform="translate(450.90,356.20) rotate(-45)" font-size="8.3" text-anchor="end" fill="#111" stroke="#111" stroke-width="0.1">PQ<tspan fill="#9d9d9d" stroke="#9d9d9d" stroke-width="0.1"> - DMSO</tspan></text>
<text transform="translate(468.60,356.20) rotate(-45)" font-size="8.3" text-anchor="end" fill="#111" stroke="#111" stroke-width="0.1">PQ<tspan fill="#9d9d9d" stroke="#9d9d9d" stroke-width="0.1"> - HU</tspan></text>
<text x="418" y="230.8" font-size="8.5" fill="#2a2a2a" stroke="#2a2a2a" stroke-width="0.08"><tspan font-style="italic">P</tspan><tspan dx="1.8" font-size="9.4">=</tspan><tspan dx="1.4">.0005</tspan></text>
<line x1="408" x2="465" y1="232.6" y2="232.6" stroke="#4a4a4a" stroke-width="1.1"/>
<text x="414.7" y="241.1" font-size="8.5" fill="#2a2a2a" stroke="#2a2a2a" stroke-width="0.08"><tspan font-style="italic">P</tspan><tspan dx="1.8" font-size="9.4">=</tspan><tspan dx="1.4">.03</tspan></text>
<line x1="408.5" x2="448" y1="242.3" y2="242.3" stroke="#4a4a4a" stroke-width="1.1"/>
<text x="400" y="251.8" font-size="8.5" fill="#2a2a2a" stroke="#2a2a2a" stroke-width="0.08"><tspan font-style="italic">P</tspan><tspan dx="1.8" font-size="9.4">=</tspan><tspan dx="1.4">.0002</tspan></text>
<line x1="408.5" x2="427.6" y1="253.8" y2="253.8" stroke="#4a4a4a" stroke-width="1.1"/>
<text x="423.5" y="261.8" font-size="8.5" fill="#2a2a2a" stroke="#2a2a2a" stroke-width="0.08"><tspan font-style="italic">P</tspan><tspan dx="1.8" font-size="9.4">=</tspan><tspan dx="1.4">.007</tspan></text>
<line x1="430" x2="448" y1="263.4" y2="263.4" stroke="#4a4a4a" stroke-width="1.1"/>
<text x="442.4" y="270.8" font-size="8.5" fill="#2a2a2a" stroke="#2a2a2a" stroke-width="0.08"><tspan font-style="italic">P</tspan><tspan dx="1.8" font-size="9.4">=</tspan><tspan dx="1.4">.04</tspan></text>
<line x1="445.8" x2="465" y1="272.3" y2="272.3" stroke="#4a4a4a" stroke-width="1.1"/>
<text x="11.9" y="20.6" font-size="11.5" font-weight="bold" fill="#111" stroke="#111" stroke-width="0.15">A</text>
<text x="224.8" y="20.6" font-size="11.5" font-weight="bold" fill="#111" stroke="#111" stroke-width="0.15">B</text>
<text x="357.5" y="20.6" font-size="11.5" font-weight="bold" fill="#111" stroke="#111" stroke-width="0.15">C</text>
<text x="11.3" y="229.9" font-size="11.5" font-weight="bold" fill="#111" stroke="#111" stroke-width="0.15">D</text>
<text x="224.8" y="229.9" font-size="11.5" font-weight="bold" fill="#111" stroke="#111" stroke-width="0.15">E</text>
<text x="357.8" y="229.9" font-size="11.5" font-weight="bold" fill="#111" stroke="#111" stroke-width="0.15">F</text>
<text x="11.3" y="423.0" font-size="11.5" font-weight="bold" fill="#111" stroke="#111" stroke-width="0.15">G</text>
<text x="358.0" y="422.6" font-size="11.5" font-weight="bold" fill="#111" stroke="#111" stroke-width="0.15">H</text>
<text x="137.8" y="17.7" font-size="8" fill="#2a2a2a">Ring, 0 - 6h30min</text>
<text x="257.4" y="17.7" font-size="8.15" fill="#2a2a2a">Trophozoite, 21h30 - 27h</text>
<text x="403.6" y="17.7" font-size="8.2" fill="#2a2a2a">Schizont, 35 - 40h</text>
<text x="27.3" y="99.2" font-size="8.4" fill="#222">HU, 329 μM</text>
<text x="27.3" y="108.6" font-size="8.4" fill="#222">PQ, 1 μM</text>
<text x="105.2" y="167.5" font-size="8.1" fill="#a5a5a5" text-anchor="end">Pulsed 3hrs:</text>
<text x="105.2" y="188" font-size="8.1" fill="#1a1a1a" text-anchor="end">Post-incubation 69hrs:</text>
<text transform="translate(89.2,104.4) rotate(-90)" font-size="8.8" fill="#1a1a1a" stroke="#1a1a1a" stroke-width="0.22" text-anchor="middle" textLength="79" lengthAdjust="spacingAndGlyphs">Parasitemia, % of control</text>
<text x="27.3" y="290.2" font-size="8.4" fill="#222">HU, 329 μM</text>
<text x="27.3" y="299.6" font-size="8.4" fill="#222">PQ, 10<tspan dy="-3" font-size="5.5">−3</tspan><tspan dy="3"> μM</tspan></text>
<text x="105.2" y="358.5" font-size="8.1" fill="#a5a5a5" text-anchor="end">Pulsed 3hrs:</text>
<text x="105.2" y="379" font-size="8.1" fill="#1a1a1a" text-anchor="end">Post-incubation 69hrs:</text>
<text transform="translate(89.2,295.4) rotate(-90)" font-size="8.8" fill="#1a1a1a" stroke="#1a1a1a" stroke-width="0.22" text-anchor="middle" textLength="79" lengthAdjust="spacingAndGlyphs">Parasitemia, % of control</text>
<text x="61" y="434.4" font-size="8" fill="#1a1a1a" text-anchor="middle">0</text>
<text x="84.4" y="434.4" font-size="8" fill="#4FAD4F" text-anchor="middle">2-4</text>
<text x="116.5" y="434.4" font-size="8" fill="#4FAD4F" text-anchor="middle">24</text>
<text x="149.2" y="434.4" font-size="8" fill="#4FAD4F" text-anchor="middle">48</text>
<text x="181.8" y="434.4" font-size="8" fill="#4FAD4F" text-anchor="middle">72</text>
<text x="229.4" y="434.4" font-size="8" fill="#1a1a1a" text-anchor="middle">96</text>
<line x1="61" x2="341" y1="455" y2="455" stroke="#808080" stroke-width="2"/>
<path d="M348.4 455 L337.4 450.1 L340.4 455 L337.4 459.9 Z" fill="#7a7a7a"/>
<line x1="61.2" x2="61.2" y1="440.2" y2="469.3" stroke="#3c3c3c" stroke-width="1.1"/>
<line x1="84.1" x2="84.1" y1="440.2" y2="469.3" stroke="#3c3c3c" stroke-width="1.1"/>
<line x1="116.6" x2="116.6" y1="440.2" y2="469.3" stroke="#3c3c3c" stroke-width="1.1"/>
<line x1="149.5" x2="149.5" y1="440.2" y2="469.3" stroke="#3c3c3c" stroke-width="1.1"/>
<line x1="181.8" x2="181.8" y1="440.2" y2="469.3" stroke="#3c3c3c" stroke-width="1.1"/>
<line x1="229.2" x2="229.2" y1="440.2" y2="469.3" stroke="#3c3c3c" stroke-width="1.1"/>
<text x="319.4" y="469.2" font-size="8" fill="#1a1a1a">Hours</text>
<path d="M79.8 469.8 V478.8 H184.8 V469.8 M132.4 478.8 V486.6" fill="none" stroke="#5a5a5a" stroke-width="1.1"/>
<text x="134.3" y="496" font-size="8.1" fill="#4FAD4F" text-anchor="middle">Treatment with</text>
<text x="134.6" y="506.4" font-size="8" fill="#4FAD4F" text-anchor="middle">HU and/or antimalarial drug, or PBS</text>
<line x1="59.6" x2="59.6" y1="517.5" y2="478" stroke="#B3213F" stroke-width="1.1"/>
<path d="M59.6 472.3 L56.4 479.7 L59.6 478.8 L62.8 479.7 Z" fill="#B3213F"/>
<rect x="41" y="482.9" width="37.2" height="13.1" fill="#fff" stroke="#333" stroke-width="1"/>
<text x="59.7" y="492" font-size="8.1" fill="#1a1a1a" text-anchor="middle">Weight</text>
<rect x="11.8" y="517.6" width="119.2" height="20.6" fill="#fff" stroke="#333" stroke-width="1"/>
<text x="71.3" y="525.6" font-size="8" fill="#1a1a1a" text-anchor="middle">Infection</text>
<text x="71.5" y="535.2" font-size="8" fill="#1a1a1a" text-anchor="middle">(i.p inoculation 2×10<tspan dy="-2.8" font-size="5">7</tspan><tspan dy="2.8"> iRBCs)</tspan></text>
<line x1="229.2" x2="229.2" y1="517" y2="481" stroke="#1a1a1a" stroke-width="1.1"/>
<path d="M229.1 475.6 L226.1 482.4 L229.1 481.4 L232.1 482.4 Z" fill="#1a1a1a"/>
<rect x="174.4" y="517.2" width="109.8" height="11.6" fill="#fff" stroke="#333" stroke-width="1"/>
<text x="229.2" y="525.8" font-size="8" fill="#1a1a1a" text-anchor="middle">Parasitemia/Weight</text>
<line x1="455.7" x2="455.7" y1="513" y2="532.8" stroke="#444" stroke-width="0.9"/>
<line x1="450.2" x2="461.2" y1="513" y2="513" stroke="#444" stroke-width="0.9"/>
<line x1="450.2" x2="461.2" y1="532.8" y2="532.8" stroke="#444" stroke-width="0.9"/>
<line x1="474.5" x2="474.5" y1="518.8" y2="538.8" stroke="#444" stroke-width="0.9"/>
<line x1="469.0" x2="480.0" y1="518.8" y2="518.8" stroke="#444" stroke-width="0.9"/>
<line x1="469.0" x2="480.0" y1="538.8" y2="538.8" stroke="#444" stroke-width="0.9"/>
<line x1="493.7" x2="493.7" y1="531" y2="543" stroke="#444" stroke-width="0.9"/>
<line x1="488.2" x2="499.2" y1="531" y2="531" stroke="#444" stroke-width="0.9"/>
<line x1="488.2" x2="499.2" y1="543" y2="543" stroke="#444" stroke-width="0.9"/>
<circle cx="416.9" cy="491.9" r="2.35" fill="#9C98CE"/>
<circle cx="416.9" cy="495.8" r="2.35" fill="#9C98CE"/>
<circle cx="410" cy="510.4" r="2.35" fill="#9C98CE"/>
<circle cx="424.9" cy="510.4" r="2.35" fill="#9C98CE"/>
<circle cx="413.8" cy="513" r="2.35" fill="#9C98CE"/>
<circle cx="419.6" cy="512.8" r="2.35" fill="#9C98CE"/>
<circle cx="422.2" cy="512" r="2.35" fill="#9C98CE"/>
<circle cx="416.4" cy="515.7" r="2.35" fill="#9C98CE"/>
<circle cx="421.2" cy="515.7" r="2.35" fill="#9C98CE"/>
<circle cx="413.8" cy="518.9" r="2.35" fill="#9C98CE"/>
<circle cx="418.5" cy="518.9" r="2.35" fill="#9C98CE"/>
<circle cx="414.8" cy="521.5" r="2.35" fill="#9C98CE"/>
<circle cx="419.6" cy="521.5" r="2.35" fill="#9C98CE"/>
<circle cx="413.2" cy="525.3" r="2.35" fill="#9C98CE"/>
<circle cx="413.8" cy="532.1" r="2.35" fill="#9C98CE"/>
<circle cx="417" cy="531.1" r="2.35" fill="#9C98CE"/>
<circle cx="419.6" cy="530" r="2.35" fill="#9C98CE"/>
<circle cx="421.7" cy="528.4" r="2.35" fill="#9C98CE"/>
<circle cx="437.6" cy="504.1" r="2.35" fill="#3FAA37"/>
<circle cx="434.4" cy="506.7" r="2.35" fill="#3FAA37"/>
<circle cx="435.5" cy="510.4" r="2.35" fill="#3FAA37"/>
<circle cx="438.1" cy="511.5" r="2.35" fill="#3FAA37"/>
<circle cx="440.8" cy="515.7" r="2.35" fill="#3FAA37"/>
<circle cx="435" cy="518.9" r="2.35" fill="#3FAA37"/>
<circle cx="428.6" cy="521.5" r="2.35" fill="#3FAA37"/>
<circle cx="431.8" cy="522.6" r="2.35" fill="#3FAA37"/>
<circle cx="437.6" cy="522.6" r="2.35" fill="#3FAA37"/>
<circle cx="443.4" cy="521.5" r="2.35" fill="#3FAA37"/>
<circle cx="440.8" cy="523.7" r="2.35" fill="#3FAA37"/>
<circle cx="435.5" cy="525.3" r="2.35" fill="#3FAA37"/>
<circle cx="438.7" cy="527.4" r="2.35" fill="#3FAA37"/>
<circle cx="431.2" cy="532.1" r="2.35" fill="#3FAA37"/>
<circle cx="434.4" cy="531.6" r="2.35" fill="#3FAA37"/>
<circle cx="437.6" cy="533.7" r="2.35" fill="#3FAA37"/>
<circle cx="440.8" cy="532.7" r="2.35" fill="#3FAA37"/>
<circle cx="436" cy="541.7" r="2.35" fill="#3FAA37"/>
<circle cx="436" cy="545.9" r="2.35" fill="#3FAA37"/>
<circle cx="454.9" cy="483.8" r="2.35" fill="#C4122F"/>
<circle cx="454.9" cy="489.7" r="2.35" fill="#C4122F"/>
<circle cx="452.2" cy="509.5" r="2.35" fill="#C4122F"/>
<circle cx="458" cy="512" r="2.35" fill="#C4122F"/>
<circle cx="452.2" cy="514.4" r="2.35" fill="#C4122F"/>
<circle cx="447.6" cy="517" r="2.35" fill="#C4122F"/>
<circle cx="452.2" cy="519.4" r="2.35" fill="#C4122F"/>
<circle cx="447.6" cy="522" r="2.35" fill="#C4122F"/>
<circle cx="457.5" cy="522.3" r="2.35" fill="#C4122F"/>
<circle cx="462.1" cy="522" r="2.35" fill="#C4122F"/>
<circle cx="452.2" cy="525.2" r="2.35" fill="#C4122F"/>
<circle cx="457.5" cy="524.6" r="2.35" fill="#C4122F"/>
<circle cx="457.5" cy="528.7" r="2.35" fill="#C4122F"/>
<circle cx="452.8" cy="534" r="2.35" fill="#C4122F"/>
<circle cx="458" cy="534" r="2.35" fill="#C4122F"/>
<circle cx="449.9" cy="548" r="2.35" fill="#C4122F"/>
<circle cx="454.9" cy="545" r="2.35" fill="#C4122F"/>
<circle cx="460" cy="546.2" r="2.35" fill="#C4122F"/>
<circle cx="474" cy="510.9" r="2.35" fill="#1D4F8C"/>
<circle cx="481.4" cy="515.9" r="2.35" fill="#1D4F8C"/>
<circle cx="466.8" cy="518.8" r="2.35" fill="#1D4F8C"/>
<circle cx="474" cy="518.2" r="2.35" fill="#1D4F8C"/>
<circle cx="466.8" cy="523.5" r="2.35" fill="#1D4F8C"/>
<circle cx="474" cy="525.8" r="2.35" fill="#1D4F8C"/>
<circle cx="480.8" cy="525.8" r="2.35" fill="#1D4F8C"/>
<circle cx="474" cy="530.7" r="2.35" fill="#1D4F8C"/>
<circle cx="474" cy="535.3" r="2.35" fill="#1D4F8C"/>
<circle cx="481.4" cy="535.7" r="2.35" fill="#1D4F8C"/>
<circle cx="466.8" cy="538.8" r="2.35" fill="#1D4F8C"/>
<circle cx="474" cy="540.4" r="2.35" fill="#1D4F8C"/>
<circle cx="481.4" cy="541" r="2.35" fill="#1D4F8C"/>
<circle cx="466.8" cy="544.2" r="2.35" fill="#1D4F8C"/>
<circle cx="492.6" cy="523.7" r="2.35" fill="#7A4714"/>
<circle cx="485" cy="528.9" r="2.35" fill="#7A4714"/>
<circle cx="496.6" cy="531.2" r="2.35" fill="#7A4714"/>
<circle cx="500" cy="531.5" r="2.35" fill="#7A4714"/>
<circle cx="490.6" cy="532.4" r="2.35" fill="#7A4714"/>
<circle cx="494.9" cy="535.3" r="2.35" fill="#7A4714"/>
<circle cx="485" cy="537.1" r="2.35" fill="#7A4714"/>
<circle cx="500.9" cy="536.7" r="2.35" fill="#7A4714"/>
<circle cx="490.6" cy="539.3" r="2.35" fill="#7A4714"/>
<circle cx="494.9" cy="540.2" r="2.35" fill="#7A4714"/>
<circle cx="485" cy="541.9" r="2.35" fill="#7A4714"/>
<circle cx="500" cy="541.9" r="2.35" fill="#7A4714"/>
<circle cx="495.4" cy="545" r="2.35" fill="#7A4714"/>
<circle cx="490.6" cy="548" r="2.35" fill="#7A4714"/>
<line x1="408.5" x2="426.5" y1="517.8" y2="517.8" stroke="#444" stroke-width="1.1"/>
<line x1="431.0" x2="439.0" y1="516.4" y2="516.4" stroke="#444" stroke-width="1.1"/>
<line x1="446.7" x2="464.7" y1="521.8" y2="521.8" stroke="#444" stroke-width="1.1"/>
<line x1="465.5" x2="483.5" y1="527.9" y2="527.9" stroke="#444" stroke-width="1.1"/>
<line x1="484.7" x2="502.7" y1="537.1" y2="537.1" stroke="#444" stroke-width="1.1"/>
<line x1="390.5" x2="390.5" y1="469.2" y2="560.5" stroke="#1a1a1a" stroke-width="1.1"/>
<line x1="390.0" x2="509.5" y1="560.5" y2="560.5" stroke="#1a1a1a" stroke-width="1.1"/>
<line x1="387.5" x2="390.5" y1="551.80" y2="551.80" stroke="#1a1a1a" stroke-width="1"/>
<text x="384.3" y="554.50" font-size="8.3" fill="#2a2a2a" stroke="#2a2a2a" stroke-width="0.15" text-anchor="end">0</text>
<line x1="387.5" x2="390.5" y1="525.27" y2="525.27" stroke="#1a1a1a" stroke-width="1"/>
<text x="384.3" y="527.97" font-size="8.3" fill="#2a2a2a" stroke="#2a2a2a" stroke-width="0.15" text-anchor="end">10</text>
<line x1="387.5" x2="390.5" y1="498.73" y2="498.73" stroke="#1a1a1a" stroke-width="1"/>
<text x="384.3" y="501.43" font-size="8.3" fill="#2a2a2a" stroke="#2a2a2a" stroke-width="0.15" text-anchor="end">20</text>
<line x1="387.5" x2="390.5" y1="472.20" y2="472.20" stroke="#1a1a1a" stroke-width="1"/>
<text x="384.3" y="474.90" font-size="8.3" fill="#2a2a2a" stroke="#2a2a2a" stroke-width="0.15" text-anchor="end">30</text>
<line x1="417.5" x2="417.5" y1="560.5" y2="563.5" stroke="#1a1a1a" stroke-width="1"/>
<line x1="436.5" x2="436.5" y1="560.5" y2="563.5" stroke="#1a1a1a" stroke-width="1"/>
<line x1="455.7" x2="455.7" y1="560.5" y2="563.5" stroke="#1a1a1a" stroke-width="1"/>
<line x1="474.5" x2="474.5" y1="560.5" y2="563.5" stroke="#1a1a1a" stroke-width="1"/>
<line x1="493.7" x2="493.7" y1="560.5" y2="563.5" stroke="#1a1a1a" stroke-width="1"/>
<text transform="translate(422.70,570.50) rotate(-45)" font-size="8.1" text-anchor="end" fill="#1a1a1a">Vehicle</text>
<text transform="translate(441.70,570.50) rotate(-45)" font-size="8.1" text-anchor="end" fill="#1a1a1a">HU, 50mg/kg</text>
<text transform="translate(460.90,570.50) rotate(-45)" font-size="8.1" text-anchor="end" fill="#1a1a1a">PQ, 0.1mg/kg</text>
<text transform="translate(479.70,570.50) rotate(-45)" font-size="8.2" text-anchor="end" fill="#1a1a1a">PQ, 0.1mg/kg + HU, 50mg/kg</text>
<text transform="translate(498.90,570.50) rotate(-45)" font-size="8.1" text-anchor="end" fill="#1a1a1a">PQ, 1mg/kg</text>
<text transform="translate(369,511) rotate(-90)" font-size="8.4" fill="#222" stroke="#222" stroke-width="0.2" text-anchor="middle" textLength="46" lengthAdjust="spacingAndGlyphs">Parasitemia, %</text>
<text x="435.2" y="431.6" font-size="8.5" fill="#2a2a2a" stroke="#2a2a2a" stroke-width="0.08"><tspan font-style="italic">P</tspan><tspan dx="1.8" font-size="9.4">&lt;</tspan><tspan dx="1.4">.0001</tspan></text>
<line x1="414.1" x2="492.8" y1="436.1" y2="436.1" stroke="#4a4a4a" stroke-width="1.1"/>
<text x="434.3" y="444.4" font-size="8.5" fill="#2a2a2a" stroke="#2a2a2a" stroke-width="0.08"><tspan font-style="italic">P</tspan><tspan dx="1.8" font-size="9.4">=</tspan><tspan dx="1.4">.03</tspan></text>
<line x1="418.7" x2="475.9" y1="447" y2="447" stroke="#4a4a4a" stroke-width="1.1"/>
<text x="449.8" y="460.9" font-size="8.5" fill="#2a2a2a" stroke="#2a2a2a" stroke-width="0.08"><tspan font-style="italic">P</tspan><tspan dx="1.8" font-size="9.4">=</tspan><tspan dx="1.4">.028</tspan></text>
<line x1="436.1" x2="495" y1="464.2" y2="464.2" stroke="#4a4a4a" stroke-width="1.1"/>
<text x="460.8" y="474.2" font-size="8.5" fill="#2a2a2a" stroke="#2a2a2a" stroke-width="0.08"><tspan font-style="italic">P</tspan><tspan dx="1.8" font-size="9.4">=</tspan><tspan dx="1.4">.01</tspan></text>
<line x1="455.8" x2="495" y1="477.6" y2="477.6" stroke="#4a4a4a" stroke-width="1.1"/>
<rect x="0.5" y="0.5" width="519" height="660" fill="none" stroke="#505050" stroke-width="1"/>
</svg>
</body></html>
